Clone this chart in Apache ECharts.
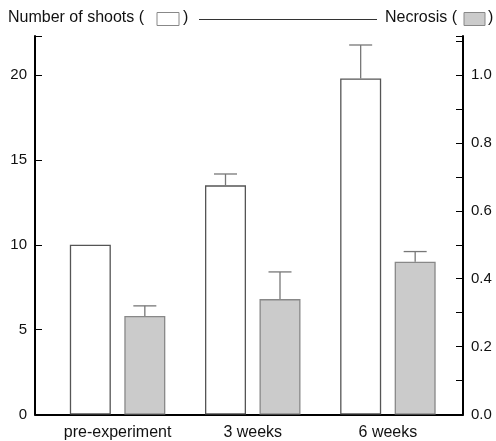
<!DOCTYPE html>
<html>
<head>
<meta charset="utf-8">
<script src="https://cdn.jsdelivr.net/npm/echarts@6/dist/echarts.min.js"></script>
<style>
html,body{margin:0;padding:0;background:#fff;}
#c{width:496px;height:441px;}
</style>
</head>
<body>
<div id="c"></div>
<script>
// ---- data ----
const categories = ['pre-experiment', '3 weeks', '6 weeks'];
const shoots = [10, 13.5, 19.8];
const shootsErr = [0, 0.67, 1.97];
const necrosis = [0.29, 0.34, 0.45];
const necrosisErr = [0.03, 0.08, 0.03];
const leftAxis = { min: 0, max: 22.3, interval: 5 };
const rightAxis = { min: 0, max: 1.115, interval: 0.1 };

// ---- styles ----
const FONT = 'Liberation Sans';
const FS = 15;
const BAR_W = 41;
const GAP = 13.5;
const OFF = (BAR_W + GAP) / 2;

function errRender(sign) {
  return function (params, api) {
    const i = api.value(0), v = api.value(1), e = api.value(2);
    if (!e) return null;
    const b = api.coord([i, v]);
    const t = api.coord([i, v + e]);
    const x = b[0] + sign * OFF;
    const style = { stroke: '#777', lineWidth: 1.3 };
    return {
      type: 'group',
      children: [
        { type: 'line', shape: { x1: x, y1: b[1], x2: x, y2: t[1] }, style: style },
        { type: 'line', shape: { x1: x - 11.5, y1: t[1], x2: x + 11.5, y2: t[1] }, style: style }
      ]
    };
  };
}

const chart = echarts.init(document.getElementById('c'), null, { renderer: 'canvas' });
const gridTop = 36, gridBottom = 26.5;
chart.setOption({
  animation: false,
  backgroundColor: '#fff',
  textStyle: { fontFamily: FONT },
  grid: [
    { left: 35, right: 33, top: gridTop, bottom: gridBottom },
    { left: 50, right: 40.5, top: gridTop, bottom: gridBottom }
  ],
  xAxis: [
    { gridIndex: 0, type: 'category', data: categories,
      axisLine: { lineStyle: { color: '#000', width: 2 } },
      axisTick: { show: false }, axisLabel: { show: false }, splitLine: { show: false } },
    { gridIndex: 1, type: 'category', data: categories,
      axisLine: { show: false }, axisTick: { show: false },
      axisLabel: { interval: 0, color: '#111', fontSize: 16, fontFamily: FONT, margin: 10 } }
  ],
  yAxis: [
    { gridIndex: 0, type: 'value', position: 'left', min: leftAxis.min, max: leftAxis.max, interval: leftAxis.interval,
      axisLine: { show: true, lineStyle: { color: '#000', width: 2 } },
      axisTick: { show: true, inside: true, length: 7, lineStyle: { color: '#000', width: 1 } },
      axisLabel: { color: '#111', fontSize: FS, fontFamily: FONT, margin: 8,
        formatter: function (v) { return v > 21 ? '' : String(v); } },
      splitLine: { show: false } },
    { gridIndex: 0, type: 'value', position: 'right', min: rightAxis.min, max: rightAxis.max, interval: rightAxis.interval,
      axisLine: { show: true, lineStyle: { color: '#000', width: 2 } },
      axisTick: { show: true, inside: true, length: 7, lineStyle: { color: '#000', width: 1 } },
      axisLabel: { color: '#111', fontSize: FS, fontFamily: FONT, margin: 8,
        formatter: function (v) { const k = Math.round(v * 10); return (k % 2 === 0 && k <= 10) ? (k / 10).toFixed(1) : ''; } },
      splitLine: { show: false } },
    { gridIndex: 1, type: 'value', min: leftAxis.min, max: leftAxis.max, show: false, splitLine: { show: false } },
    { gridIndex: 1, type: 'value', min: rightAxis.min, max: rightAxis.max, show: false, splitLine: { show: false } }
  ],
  series: [
    { name: 'Number of shoots', type: 'bar', xAxisIndex: 1, yAxisIndex: 2, data: shoots,
      barWidth: BAR_W, barGap: (GAP / BAR_W * 100).toFixed(1) + '%',
      itemStyle: { color: '#fff', borderColor: '#555', borderWidth: 1.3 } },
    { name: 'Necrosis', type: 'bar', xAxisIndex: 1, yAxisIndex: 3, data: necrosis,
      barWidth: BAR_W,
      itemStyle: { color: '#cbcbcb', borderColor: '#888', borderWidth: 1.3 } },
    { type: 'custom', xAxisIndex: 1, yAxisIndex: 2, renderItem: errRender(-1),
      data: shoots.map(function (v, i) { return [i, v, shootsErr[i]]; }), z: 3 },
    { type: 'custom', xAxisIndex: 1, yAxisIndex: 3, renderItem: errRender(1),
      data: necrosis.map(function (v, i) { return [i, v, necrosisErr[i]]; }), z: 3 }
  ],
  graphic: [
    { type: 'text', left: 8, top: 10, style: { text: 'Number of shoots (', fill: '#111', font: '16px "' + FONT + '"' } },
    { type: 'rect', shape: { x: 157, y: 12.5, width: 22, height: 13 }, style: { fill: '#fff', stroke: '#888', lineWidth: 1 } },
    { type: 'text', left: 183, top: 10, style: { text: ')', fill: '#111', font: '16px "' + FONT + '"' } },
    { type: 'line', shape: { x1: 199, y1: 19.5, x2: 377, y2: 19.5 }, style: { stroke: '#333', lineWidth: 1 } },
    { type: 'text', left: 385, top: 10, style: { text: 'Necrosis (', fill: '#111', font: '16px "' + FONT + '"' } },
    { type: 'rect', shape: { x: 464, y: 12.5, width: 21, height: 13 }, style: { fill: '#cbcbcb', stroke: '#888', lineWidth: 1 } },
    { type: 'text', left: 488, top: 10, style: { text: ')', fill: '#111', font: '16px "' + FONT + '"' } }
  ]
});
</script>
</body>
</html>
